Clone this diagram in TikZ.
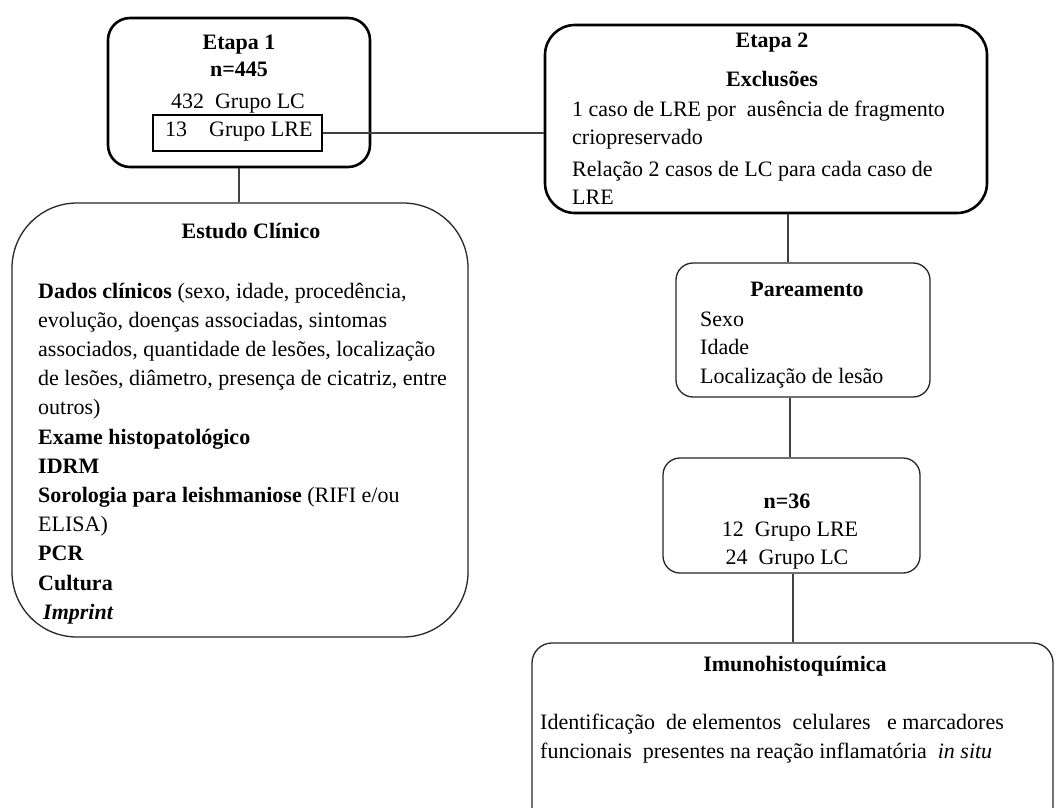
\documentclass[tikz,border=0pt]{standalone}
\usepackage{fontspec}
\setmainfont{Liberation Serif}
\begin{document}
\begin{tikzpicture}[x=1pt,y=-1pt,
  every node/.style={font=\fontsize{22}{29}\selectfont, inner sep=0pt},
  thickbox/.style={draw=black, line width=2.6pt},
  thinbox/.style={draw=black!85, line width=1.3pt},
  conn/.style={draw=black!75, line width=1.3pt},
  txt/.style={anchor=base west},
  ctxt/.style={anchor=base}]
\useasboundingbox (0,0) rectangle (1057,808);
\clip (0,0) rectangle (1057,808);
\fill[white] (0,0) rectangle (1057,808);

% boxes
\node[thickbox, rounded corners=22pt, minimum width=262pt, minimum height=149pt] (e1) at (239,92.5) {};
\node[thickbox, minimum width=169pt, minimum height=36pt] (lre) at (237.5,133) {};
\node[thickbox, rounded corners=30pt, minimum width=442pt, minimum height=188pt] (e2) at (766,119) {};
\node[thinbox, rounded corners=65pt, minimum width=456pt, minimum height=434pt] (est) at (240,420) {};
\node[thinbox, rounded corners=17pt, minimum width=254pt, minimum height=134pt] (par) at (803,330) {};
\node[thinbox, rounded corners=17pt, minimum width=257pt, minimum height=115pt] (n36) at (791.5,515.5) {};
\node[thinbox, rounded corners=20pt, minimum width=521pt, minimum height=187pt] (imu) at (792.5,736.5) {};

% connectors
\draw[conn] (lre.east) -- (lre.east -| e2.west);
\draw[conn] (e1.south) -- (e1.south |- est.north);
\draw[conn] ([xshift=22pt]e2.south) -- ([xshift=22pt]e2.south |- par.north);
\draw[conn] ([xshift=-13pt]par.south) -- ([xshift=-13pt]par.south |- n36.north);
\draw[conn] ([xshift=1.5pt]n36.south) -- ([xshift=1.5pt]n36.south |- imu.north);

% Etapa 1
\node[ctxt] (e1a) at (239,49) {\textbf{Etapa 1}};
\node[ctxt] (e1b) at (239,77) {\textbf{n=445}};
\node[ctxt] (e1c) at (238,108) {432\ \ Grupo LC};
\node[txt] (e1d) at (165,136) {13\quad Grupo LRE};

% Etapa 2
\node[ctxt] (e2a) at (772,48) {\textbf{Etapa 2}};
\node[ctxt] (e2b) at (772,86) {\textbf{Exclusões}};
\node[txt] (e2c) at (572,116) {1 caso de LRE por\ \ ausência de fragmento};
\node[txt] (e2d) at (572,144) {criopreservado};
\node[txt] (e2e) at (572,176) {Relação 2 casos de LC para cada caso de};
\node[txt] (e2f) at (572,204) {LRE};

% Estudo Clinico
\node[ctxt] (es0) at (251,238) {\textbf{Estudo Clínico}};
\node[txt] (es1) at (38,298) {\textbf{Dados clínicos} (sexo, idade, procedência,};
\node[txt] (es2) at (38,327.2) {evolução, doenças associadas, sintomas};
\node[txt] (es3) at (38,356.4) {associados, quantidade de lesões, localização};
\node[txt] (es4) at (38,385.6) {de lesões, diâmetro, presença de cicatriz, entre};
\node[txt] (es5) at (38,414.8) {outros)};
\node[txt] (es6) at (38,444) {\textbf{Exame histopatológico}};
\node[txt] (es7) at (38,473.2) {\textbf{IDRM}};
\node[txt] (es8) at (38,502.4) {\textbf{Sorologia para leishmaniose} (RIFI e/ou};
\node[txt] (es9) at (38,531.6) {ELISA)};
\node[txt] (es10) at (38,560.8) {\textbf{PCR}};
\node[txt] (es11) at (38,590) {\textbf{Cultura}};
\node[txt] (es12) at (43,619.2) {\textbf{\textit{Imprint}}};

% Pareamento
\node[ctxt] (p0) at (807,296) {\textbf{Pareamento}};
\node[txt] (p1) at (700,326) {Sexo};
\node[txt] (p2) at (700,354) {Idade};
\node[txt] (p3) at (700,383) {Localização de lesão};

% n=36
\node[ctxt] (n0) at (787,508) {\textbf{n=36}};
\node[ctxt] (n1) at (790,536) {12\ \ Grupo LRE};
\node[ctxt] (n2) at (787,564) {24\ \ Grupo LC};

% Imunohistoquimica
\node[ctxt] (i0) at (795,671) {\textbf{Imunohistoquímica}};
\node[txt] (i1) at (540,729) {Identificação\ \ de elementos\ \ celulares\ \ \ e marcadores};
\node[txt] (i2) at (540,758) {funcionais\ \ presentes na reação inflamatória\ \ \textit{in situ}};
\end{tikzpicture}
\end{document}
